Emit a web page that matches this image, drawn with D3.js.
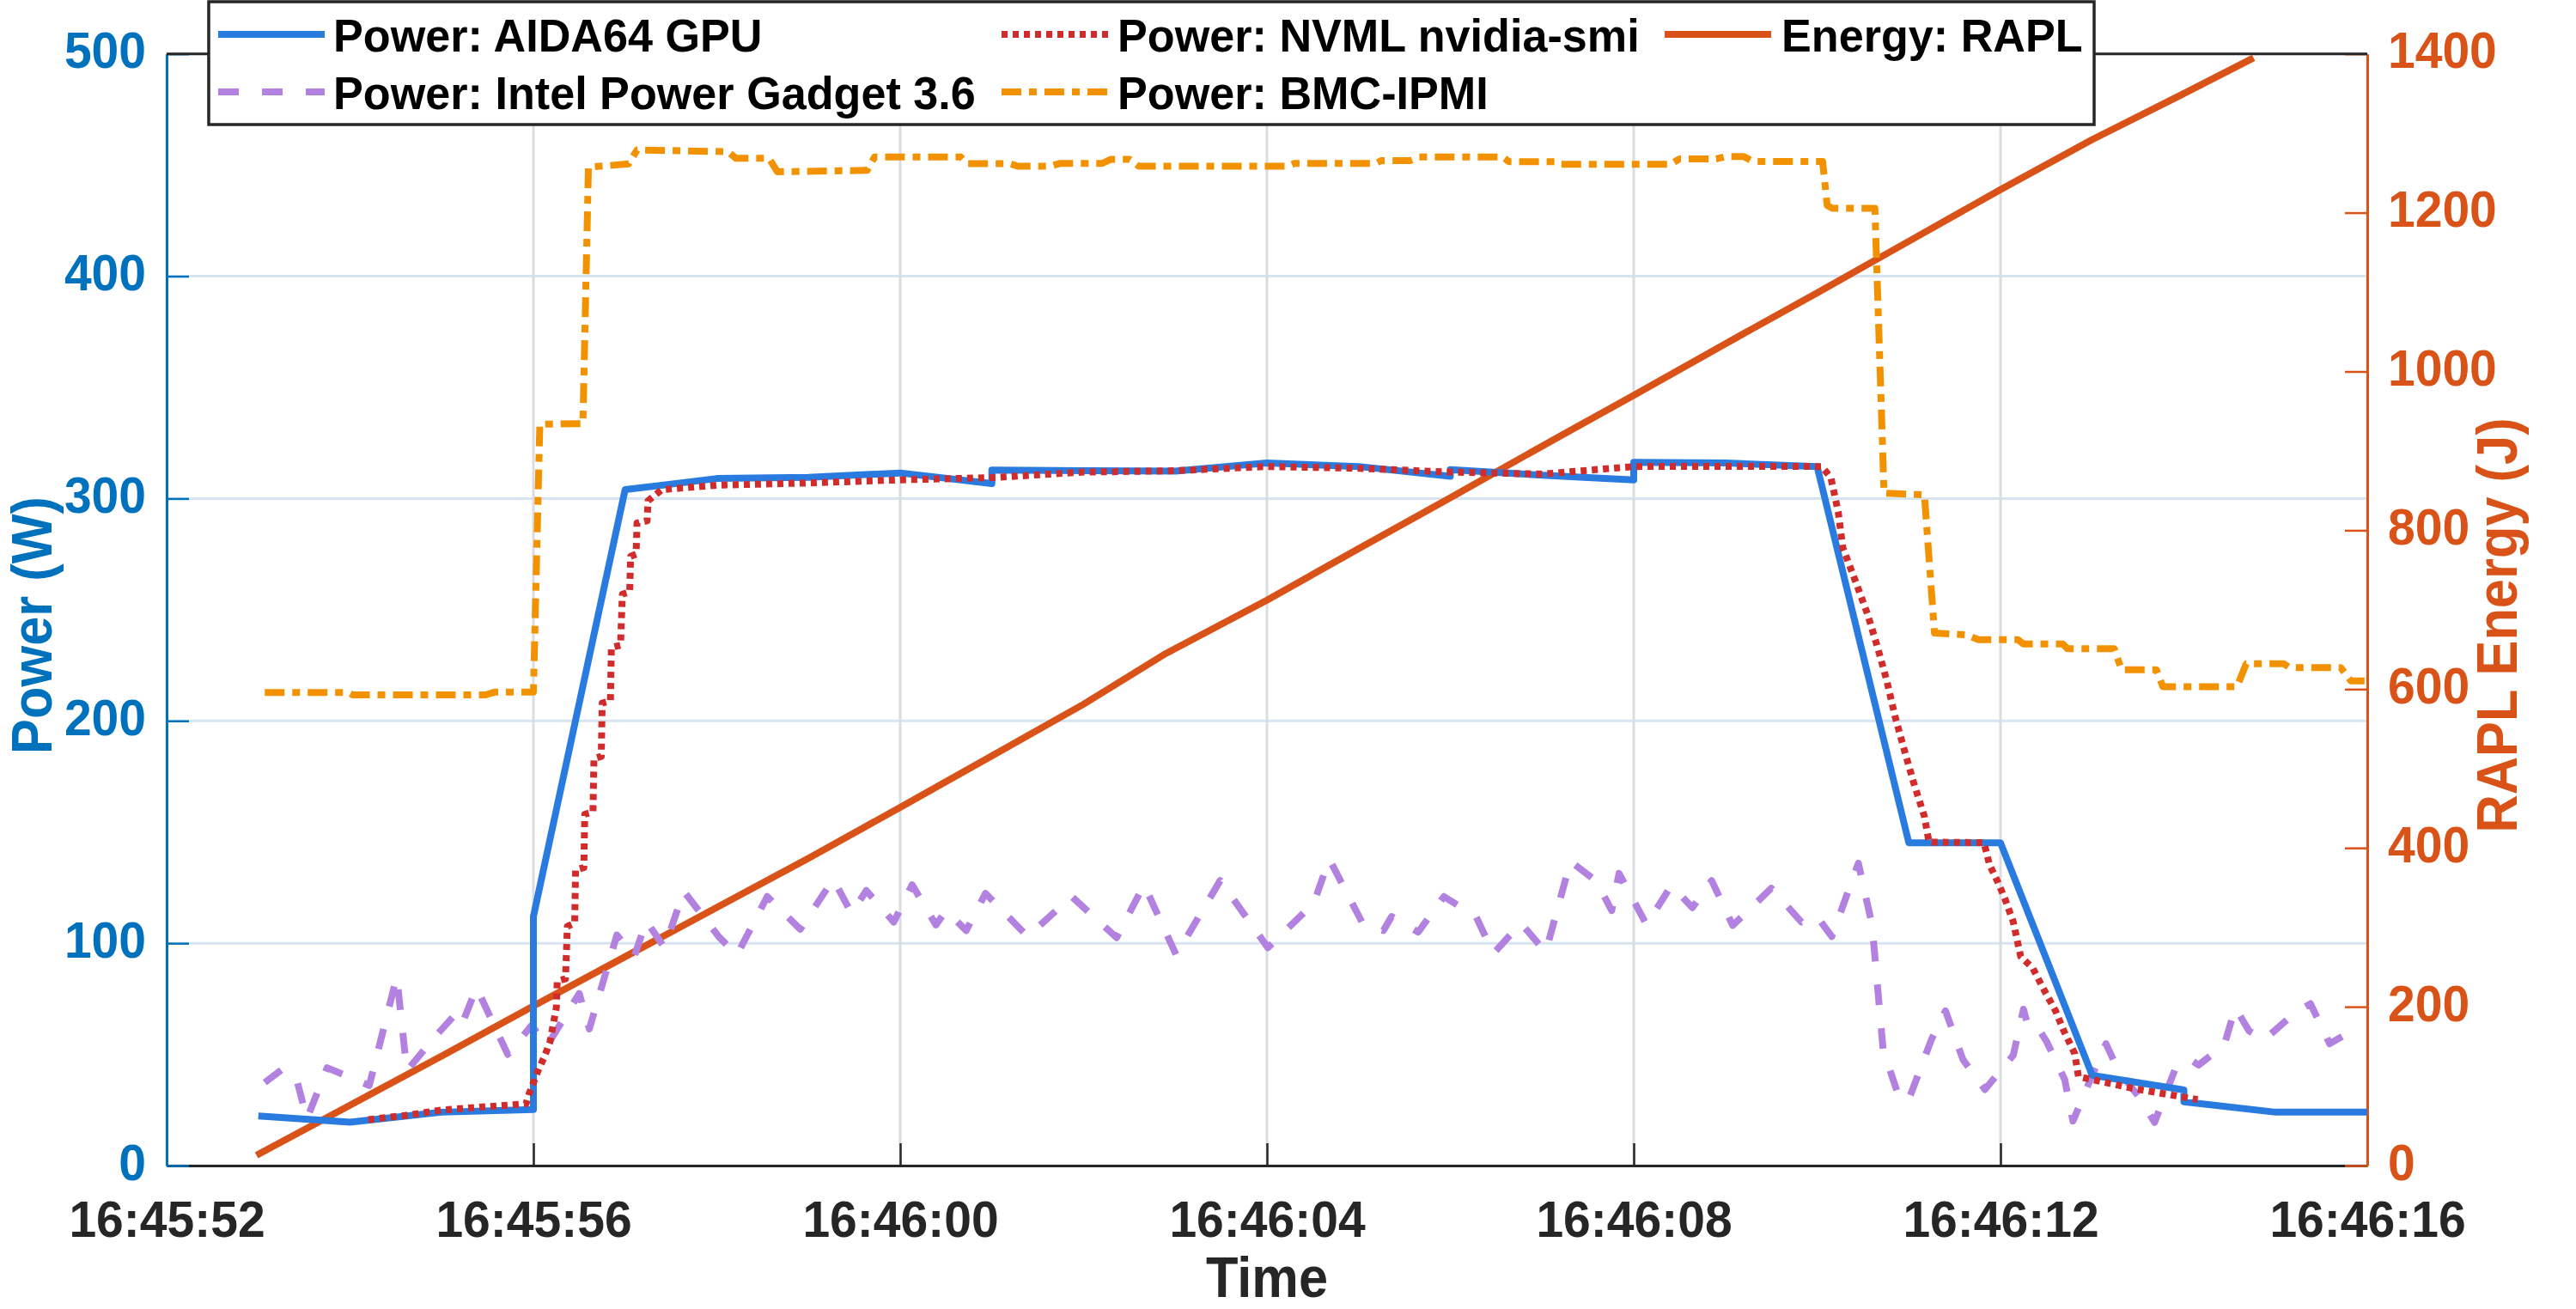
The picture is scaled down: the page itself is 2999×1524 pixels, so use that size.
<!DOCTYPE html>
<html>
<head>
<meta charset="utf-8">
<script src="https://cdn.jsdelivr.net/npm/d3@7"></script>
<style>
body { margin: 0; background: #fff; }
text { font-family: "Liberation Sans", Arial, Helvetica, sans-serif; font-weight: bold; }
</style>
</head>
<body>
<svg id="chart" width="2999" height="1524"></svg>
<script>
// time is seconds after 16:45:52
var aidaT = [1, 2, 3, 4, 4, 5, 6, 7, 8, 9, 9, 10, 11, 12, 13, 14, 14, 15, 16, 16, 17, 18, 19, 20, 21, 22, 22, 23, 24];
var aidaW = [22.3, 19.5, 24, 25.2, 112, 304, 309, 309.5, 311.5, 306.7, 312.8, 312.5, 312.3, 316, 314.4, 310, 313, 310.5, 308.4, 316.3, 316, 314.4, 145.2, 145.2, 40.6, 34, 28.7, 24, 24];

var nvmlT = [2.2, 2.6, 3.0, 3.5, 3.92, 3.95, 4.05, 4.12, 4.18, 4.25, 4.26, 4.35, 4.37, 4.45, 4.46, 4.55, 4.56, 4.65, 4.66, 4.74,
    4.75, 4.84, 4.85, 4.95, 4.97, 5.05, 5.06, 5.12, 5.13, 5.24, 5.25, 5.4, 6, 7, 8, 9, 10, 11, 12, 13,
    14, 15, 16, 17, 18.05, 18.15, 18.23, 18.28, 18.42, 18.55, 18.66, 18.76, 18.85, 18.95, 19.05, 19.17, 19.22, 19.82, 19.88, 19.97,
    20.05, 20.14, 20.22, 20.35, 20.48, 20.6, 20.69, 20.81, 20.85, 21.43, 22.15];
var nvmlW = [20.7, 22.5, 25, 26.5, 27.8, 32, 42.6, 49, 55.5, 71, 83, 84, 107.6, 109, 133, 134, 158, 159, 183, 184,
    208, 209, 233, 234, 257, 258, 274, 275, 289, 290, 299, 304, 306, 307, 308.4, 309.4, 311.9, 312.5, 314.4, 313.6,
    311.9, 311, 314.4, 314.5, 314.4, 309.4, 294, 278, 262.6, 248, 233, 218, 202, 187, 172.6, 157, 145.5, 145.2, 135.3, 127.6,
    119.8, 109.5, 94, 88.9, 78.6, 69.6, 60.6, 50.3, 40, 34.8, 29.7];

var raplT = [0.98, 2, 3, 4, 5, 6, 7, 8, 9, 10, 10.9, 12, 13, 14, 15, 16, 17, 18, 19, 20, 21, 22, 22.76];
var raplJ = [13, 76, 138, 201, 263, 325, 387, 451, 516, 581, 645, 712, 777, 841, 906, 970, 1035, 1099, 1164, 1229, 1292, 1350, 1395];

var ipgT = [1.07, 1.25, 1.41, 1.53, 1.75, 2.21, 2.51, 2.62, 2.9, 3.17, 3.23, 3.38, 3.72, 3.98, 4.15, 4.5, 4.61, 4.91, 5.1, 5.23,
    5.43, 5.64, 6.02, 6.22, 6.55, 6.91, 7.27, 7.47, 7.63, 7.93, 8.13, 8.39, 8.5, 8.72, 8.93, 9.39, 9.87, 10.36, 10.66, 11.01,
    11.49, 12.01, 12.51, 12.68, 13.06, 13.27, 13.36, 13.65, 13.93, 14.28, 14.47, 14.77, 15.04, 15.31, 15.59, 15.76, 15.84, 16.14, 16.41, 16.64,
    16.85, 17.08, 17.5, 17.83, 18.0, 18.16, 18.45, 18.6, 18.72, 18.87, 18.99, 19.25, 19.4, 19.59, 19.83, 20.14, 20.25, 20.31, 20.43, 20.5,
    20.7, 20.79, 20.98, 21.15, 21.28, 21.53, 21.68, 21.91, 22.07, 22.16, 22.44, 22.56, 22.71, 22.88, 23.2, 23.38, 23.59, 23.93];
var ipgW = [37.3, 43, 40, 21, 44, 36, 85, 42.6, 56.7, 69, 64.5, 80, 50, 63, 54, 77.4, 61.5, 103.7, 94, 110,
    98, 123.4, 103, 94.7, 121, 106.3, 128.8, 113.4, 123.7, 109.5, 126.3, 108.2, 114.7, 105.7, 122.4, 103, 121, 102.5, 126.3, 94.7,
    128.2, 98, 118, 137.8, 107.6, 105.7, 112, 105, 121, 112, 95.4, 109, 96, 136.8, 128, 114.7, 131.4, 108.3, 126, 116,
    128.2, 108, 124.7, 109.5, 112, 103, 136, 108, 52, 33.6, 28.7, 57, 69.6, 47.7, 34.2, 49.7, 70.3, 61.2, 60.6, 56,
    38.7, 20, 38.7, 54.8, 43.2, 29.7, 19.4, 43.9, 47.7, 45.2, 54.2, 71, 60.6, 56.7, 68.3, 72.8, 54.8, 63];

var bmcT = [1.07, 1.98, 2.03, 3.48, 3.58, 4.0, 4.07, 4.54, 4.6, 5.04, 5.13, 6.12, 6.21, 6.57, 6.66, 7.64, 7.72, 8.66, 8.73, 9.2,
    9.28, 9.64, 9.74, 10.2, 10.3, 10.5, 10.6, 12.23, 12.3, 13.18, 13.25, 13.56, 13.66, 14.57, 14.64, 15.14, 15.19, 16.4, 16.5, 16.9,
    17.0, 17.2, 17.3, 18.06, 18.11, 18.17, 18.63, 18.73, 19.17, 19.28, 19.63, 19.76, 20.19, 20.25, 20.68, 20.73, 21.24, 21.32, 21.7, 21.77,
    22.58, 22.68, 23.09, 23.15, 23.71, 23.82, 23.97];
var bmcW = [212.8, 212.8, 211.7, 211.7, 213, 213, 333.4, 333.7, 449, 450.5, 456.8, 456, 453, 453, 447, 447.6, 453.6, 453.6, 450.6, 450.6,
    449.5, 449.5, 450.7, 450.7, 452.6, 452.6, 449.5, 449.5, 450.7, 450.7, 452, 452, 453.6, 453.6, 451.5, 451.5, 450.3, 450.3, 452.8, 452.8,
    453.8, 453.8, 451.6, 451.6, 431.8, 430.5, 430.5, 302.4, 301.7, 239.5, 238.7, 236.5, 236.5, 234.6, 234.6, 232.5, 232.5, 223, 223, 215.4,
    215.4, 225.7, 225.7, 224, 224, 218, 218];

var powerTicks = [0, 100, 200, 300, 400, 500];
var energyTicks = [0, 200, 400, 600, 800, 1000, 1200, 1400];
var startTime = new Date(2020, 0, 1, 16, 45, 52);
var spanSeconds = 24;

var powerChart = {

    svg: null,

    toDate: function (s) {
        return new Date(startTime.getTime() + s * 1000);
    },

    zip: function (ts, vs) {
        return ts.map(function (t, i) { return { t: powerChart.toDate(t), v: vs[i] }; });
    },

    // the original font is a little narrower than Liberation Sans
    condense: function (sel, k) {
        sel.each(function () {
            var w = this.getComputedTextLength();
            d3.select(this).attr("textLength", w * k).attr("lengthAdjust", "spacingAndGlyphs");
        });
    },

    draw: function () {
        var svg = d3.select("#chart");
        powerChart.svg = svg;

        var left = 194, right = 2756, top = 62.7, bottom = 1357;
        var blueAxis = "#0072bd", orangeAxis = "#d95319", dark = "#262626";

        var x = d3.scaleTime()
            .domain([startTime, powerChart.toDate(spanSeconds)])
            .range([left, right]);
        var yP = d3.scaleLinear().domain([0, 500]).range([bottom, top]);
        var yE = d3.scaleLinear().domain([0, 1400]).range([bottom, top]);
        var xTicks = x.ticks(d3.timeSecond.every(4));

        // grid
        svg.append("g").selectAll("line")
            .data(powerTicks).enter().append("line")
            .attr("x1", left).attr("x2", right)
            .attr("y1", function (d) { return yP(d); })
            .attr("y2", function (d) { return yP(d); })
            .attr("stroke", "#d6e5f1").attr("stroke-width", 3);
        svg.append("g").selectAll("line")
            .data(xTicks).enter().append("line")
            .attr("y1", top).attr("y2", bottom)
            .attr("x1", function (d) { return x(d); })
            .attr("x2", function (d) { return x(d); })
            .attr("stroke", "#d9dde2").attr("stroke-width", 3);

        // axes
        var xAxis = svg.append("g")
            .attr("transform", "translate(0," + bottom + ")")
            .call(d3.axisBottom(x).tickValues(xTicks)
                .tickFormat(d3.timeFormat("%H:%M:%S"))
                .tickSizeInner(-26).tickSizeOuter(0).tickPadding(40));
        var lAxis = svg.append("g")
            .attr("transform", "translate(" + left + ",0)")
            .call(d3.axisLeft(yP).tickValues(powerTicks)
                .tickSizeInner(-26).tickSizeOuter(0).tickPadding(24));
        var rAxis = svg.append("g")
            .attr("transform", "translate(" + right + ",0)")
            .call(d3.axisRight(yE).tickValues(energyTicks).tickFormat(d3.format("d"))
                .tickSizeInner(-26).tickSizeOuter(0).tickPadding(24));

        svg.append("line")
            .attr("x1", left).attr("x2", right).attr("y1", top).attr("y2", top)
            .attr("stroke", dark).attr("stroke-width", 3);

        [[xAxis, dark], [lAxis, blueAxis], [rAxis, orangeAxis]].forEach(function (a) {
            a[0].select(".domain").attr("stroke", a[1]).attr("stroke-width", 3);
            a[0].selectAll(".tick line").attr("stroke", a[1]).attr("stroke-width", 2.5);
            a[0].selectAll(".tick text")
                .attr("fill", a[1])
                .style("font-size", "60px")
                .call(powerChart.condense, 0.95);
        });
        lAxis.selectAll(".tick text").attr("dy", "0.27em");
        rAxis.selectAll(".tick text").attr("dy", "0.27em");

        // axis titles
        var mid = 728;
        svg.append("text")
            .attr("x", (left + right) / 2).attr("y", 1510)
            .attr("text-anchor", "middle")
            .attr("fill", dark).style("font-size", "66px")
            .text("Time")
            .call(powerChart.condense, 0.93);
        svg.append("text")
            .attr("transform", "translate(60," + mid + ") rotate(-90)")
            .attr("text-anchor", "middle")
            .attr("fill", blueAxis).style("font-size", "66px")
            .text("Power (W)")
            .call(powerChart.condense, 0.93);
        svg.append("text")
            .attr("transform", "translate(2930," + mid + ") rotate(-90)")
            .attr("text-anchor", "middle")
            .attr("fill", orangeAxis).style("font-size", "66px")
            .text("RAPL Energy (J)")
            .call(powerChart.condense, 0.93);

        var series = [
            { name: "Power: AIDA64 GPU", data: powerChart.zip(aidaT, aidaW), y: yP, color: "#2a7be0", dash: null, col: 0, row: 0 },
            { name: "Power: Intel Power Gadget 3.6", data: powerChart.zip(ipgT, ipgW), y: yP, color: "#b382e0", dash: "24,27", col: 0, row: 1 },
            { name: "Power: NVML nvidia-smi", data: powerChart.zip(nvmlT, nvmlW), y: yP, color: "#d22b2b", dash: "7,6", col: 1, row: 0 },
            { name: "Power: BMC-IPMI", data: powerChart.zip(bmcT, bmcW), y: yP, color: "#f39200", dash: "23,9,9,9", col: 1, row: 1 },
            { name: "Energy: RAPL", data: powerChart.zip(raplT, raplJ), y: yE, color: "#d95319", dash: null, col: 2, row: 0 }
        ];

        // draw order like the reference: energy under power lines
        var order = [4, 3, 1, 0, 2];
        order.forEach(function (i) {
            var s = series[i];
            var line = d3.line()
                .x(function (d) { return x(d.t); })
                .y(function (d) { return s.y(d.v); });
            svg.append("path")
                .datum(s.data)
                .attr("d", line)
                .attr("fill", "none")
                .attr("stroke", s.color)
                .attr("stroke-width", 8)
                .attr("stroke-linejoin", "round")
                .attr("stroke-dasharray", s.dash);
        });

        // legend
        var legend = svg.append("g");
        legend.append("rect")
            .attr("x", 243).attr("y", 2).attr("width", 2195).attr("height", 143)
            .attr("fill", "#fff").attr("stroke", dark).attr("stroke-width", 3.5);
        var colLine = [254, 1166, 1938], colText = [388, 1301, 2074], rowY = [40, 107], rowBase = [60, 127];
        series.forEach(function (s) {
            legend.append("line")
                .attr("x1", colLine[s.col]).attr("x2", colLine[s.col] + 124)
                .attr("y1", rowY[s.row]).attr("y2", rowY[s.row])
                .attr("stroke", s.color).attr("stroke-width", 8)
                .attr("stroke-dasharray", s.dash);
            legend.append("text")
                .attr("x", colText[s.col]).attr("y", rowBase[s.row])
                .attr("fill", "#000").style("font-size", "53.5px")
                .text(s.name)
                .call(powerChart.condense, 0.975);
        });
    }
};

powerChart.draw();
</script>
</body>
</html>
